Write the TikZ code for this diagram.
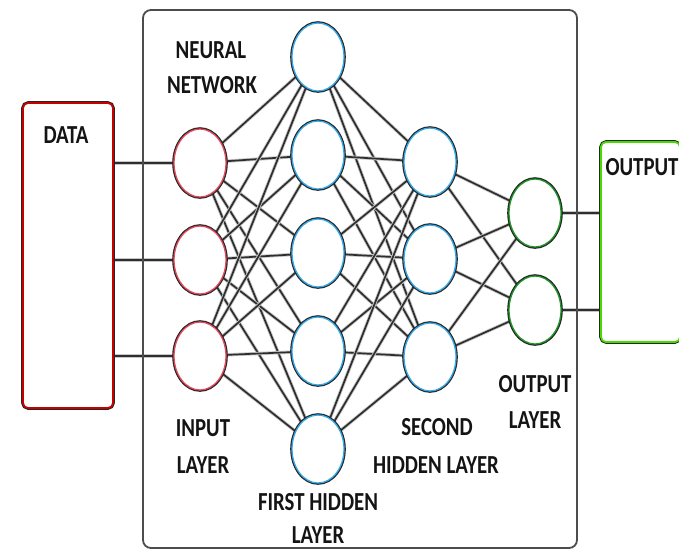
\documentclass[tikz,border=0pt]{standalone}
\usepackage{fontspec}
\newfontfamily\lblfont{Carlito}[FakeStretch=0.8]
\usetikzlibrary{shapes.geometric}
\pgfdeclarelayer{background}
\pgfsetlayers{background,main}

\definecolor{inred}{RGB}{228,72,92}
\definecolor{hidblue}{RGB}{52,168,232}
\definecolor{outgreen}{RGB}{30,150,40}
\definecolor{datared}{RGB}{200,0,0}
\definecolor{boxgreen}{RGB}{70,220,0}

\tikzset{
  neuron/.style={ellipse, inner sep=0pt, minimum width=52pt, minimum height=68pt,
    fill=white, line width=1.3pt, preaction={draw=black!85, line width=3.6pt}},
  inneuron/.style={neuron, draw=inred},
  hidneuron/.style={neuron, draw=hidblue},
  outneuron/.style={neuron, draw=outgreen},
  iobox/.style={rectangle, rounded corners=5pt, inner sep=0pt, fill=white,
    line width=1.8pt, preaction={draw=black!85, line width=3.6pt}},
  nnbox/.style={rectangle, rounded corners=8pt, inner sep=0pt,
    draw=black!70, line width=1.8pt},
  link/.style={draw=black!82, line width=1.7pt, preaction={draw=black!22, line width=3.4pt}},
  lbl/.style={font=\lblfont\bfseries\fontsize{26}{30}\selectfont, inner sep=0pt, text=black!92}
}

\begin{document}
\begin{tikzpicture}[x=1pt,y=-1pt]
\useasboundingbox (0,0) rectangle (679,550);

% frame around the network
\node[nnbox, minimum width=434pt, minimum height=538pt] (nn) at (360,279) {};

% data source and output sink
\node[iobox, draw=datared, minimum width=90pt, minimum height=305pt] (data) at (68,255.5) {};
\node[iobox, draw=boxgreen, minimum width=79pt, minimum height=200pt] (outbox) at (640.5,242) {};

% input layer
\node[inneuron] (i1) at (200,163) {};
\node[inneuron] (i2) at (200,260) {};
\node[inneuron] (i3) at (200,356) {};

% first hidden layer
\node[hidneuron] (a1) at (318,57) {};
\node[hidneuron] (a2) at (318,155) {};
\node[hidneuron] (a3) at (318,253) {};
\node[hidneuron] (a4) at (318,351) {};
\node[hidneuron] (a5) at (318,449) {};

% second hidden layer
\node[hidneuron] (b1) at (430,162) {};
\node[hidneuron] (b2) at (430,259) {};
\node[hidneuron] (b3) at (430,357) {};

% output layer
\node[outneuron] (o1) at (535,213) {};
\node[outneuron] (o2) at (535,310) {};

% connections, kept under the neurons
\begin{pgfonlayer}{background}
  \foreach \s in {i1,i2,i3}
    \foreach \t in {a1,a2,a3,a4,a5}
      \draw[link] (\s) -- (\t);
  \foreach \s in {a1,a2,a3,a4,a5}
    \foreach \t in {b1,b2,b3}
      \draw[link] (\s) -- (\t);
  \foreach \s in {b1,b2,b3}
    \foreach \t in {o1,o2}
      \draw[link] (\s) -- (\t);
  \foreach \t in {i1,i2,i3}
    \draw[link] (data.east |- \t) -- (\t);
  \foreach \s in {o1,o2}
    \draw[link] (\s) -- (outbox.west |- \s);
\end{pgfonlayer}

% labels
\node[lbl] (tdata) at (66,135) {DATA};
\node[lbl] (tout) at (642,167) {OUTPUT};
\node[lbl] (tnn1) at (211,50) {NEURAL};
\node[lbl] (tnn2) at (212,85) {NETWORK};
\node[lbl] (tin1) at (203,428) {INPUT};
\node[lbl] (tin2) at (203,465) {LAYER};
\node[lbl] (th11) at (318,502) {FIRST HIDDEN};
\node[lbl] (th12) at (318,535) {LAYER};
\node[lbl] (th21) at (437,427) {SECOND};
\node[lbl] (th22) at (436,465) {HIDDEN LAYER};
\node[lbl] (tol1) at (535,384) {OUTPUT};
\node[lbl] (tol2) at (535,420) {LAYER};
\end{tikzpicture}
\end{document}
